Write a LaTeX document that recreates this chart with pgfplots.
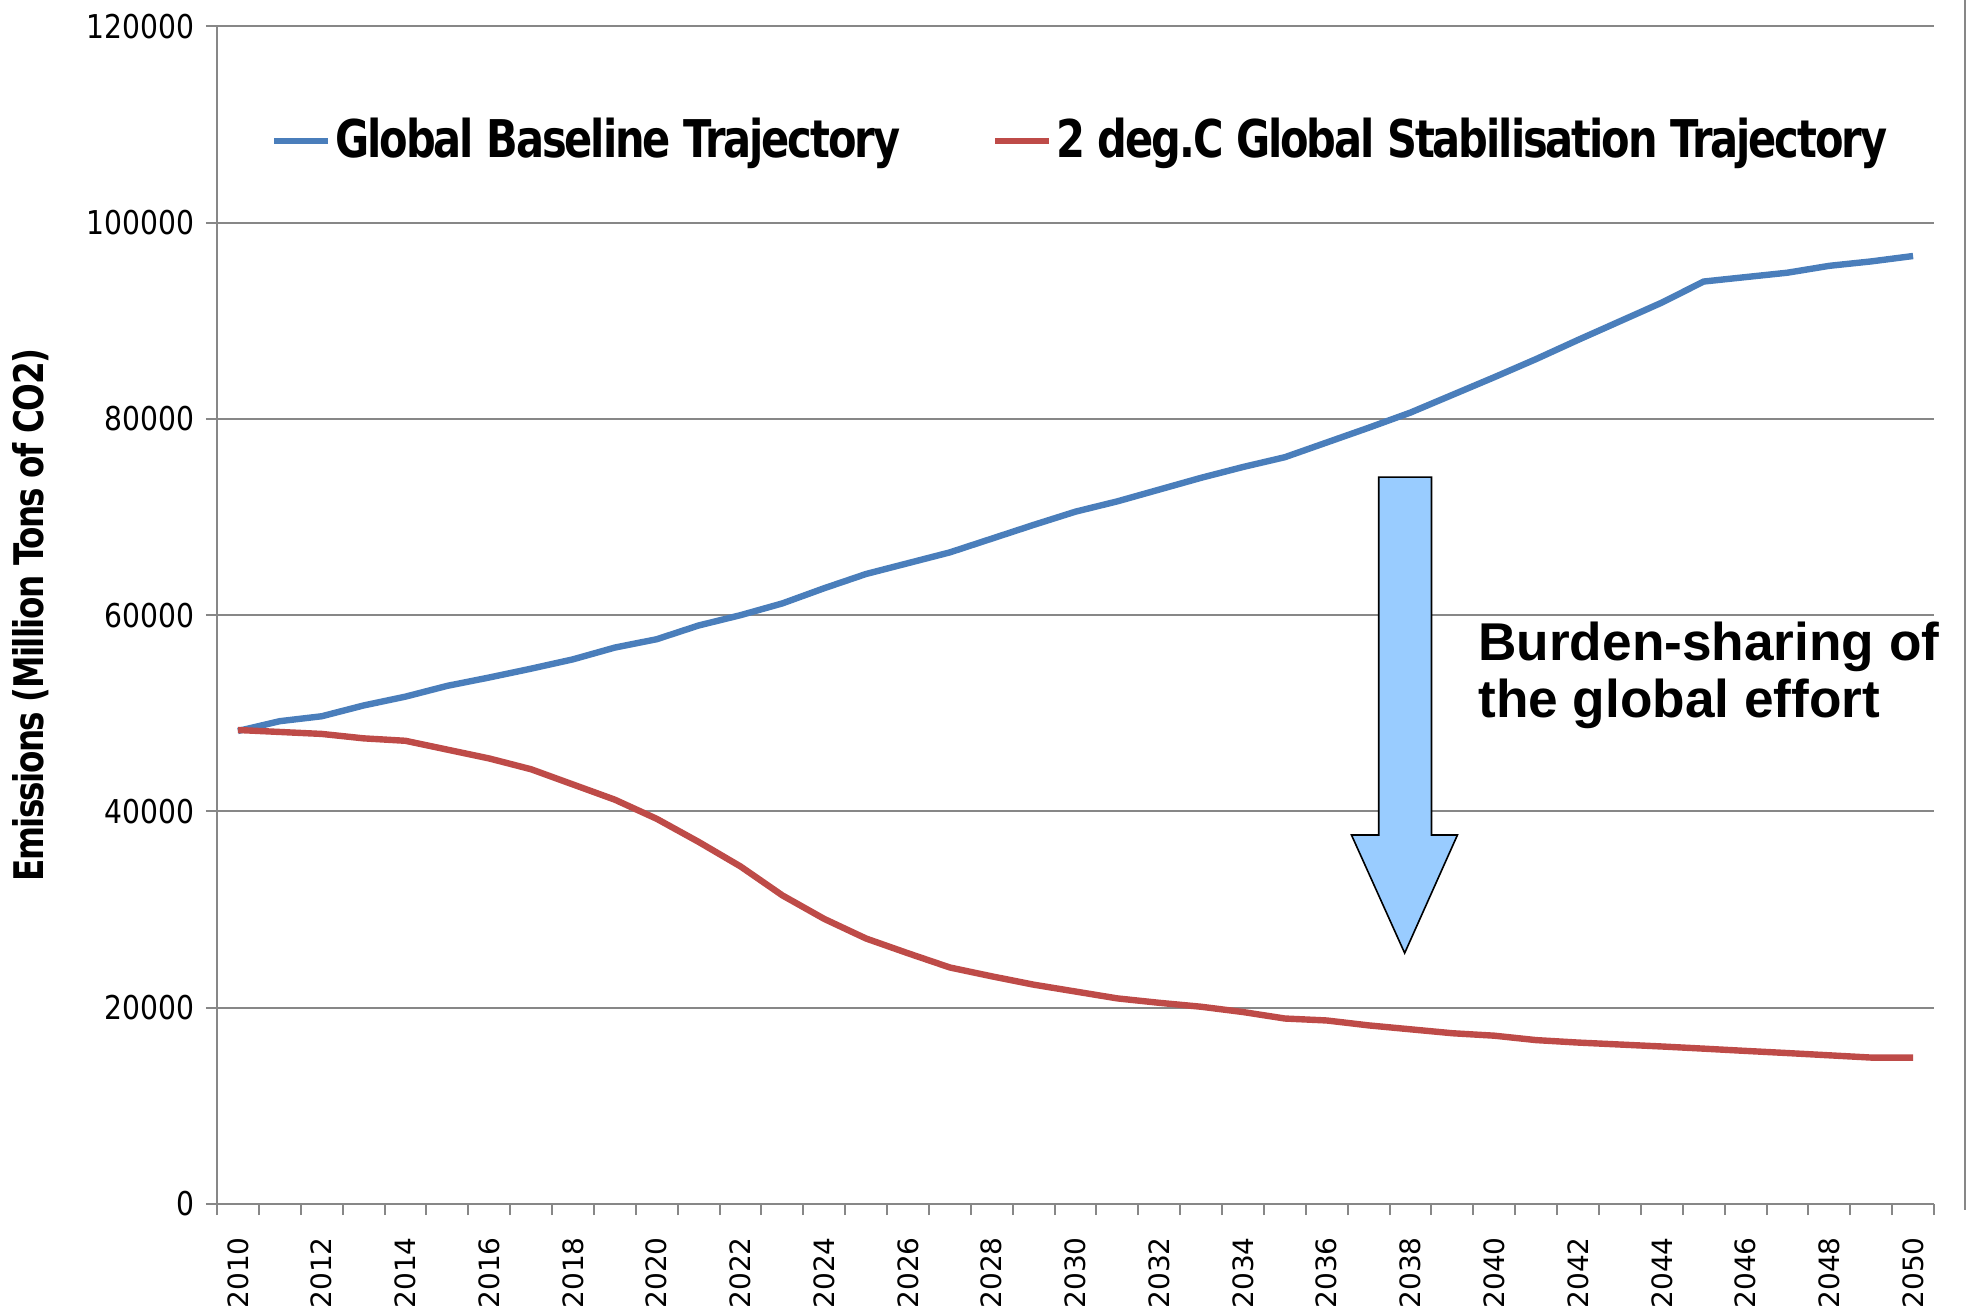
\documentclass[border=0pt]{standalone}
\usepackage{pgfplots}
\pgfplotsset{compat=1.18}
\usepackage{fontspec}
\setmainfont{DejaVu Sans}
\newfontfamily\ytfont{DejaVu Sans}[FakeStretch=0.86]
\newfontfamily\legfont{DejaVu Sans}[FakeStretch=0.80,LetterSpace=-4]
\newfontfamily\arialfont{Liberation Sans}
\definecolor{serblue}{HTML}{4A7EBB}
\definecolor{serred}{HTML}{BE4B48}
\definecolor{gridgray}{HTML}{878787}
\definecolor{arrowblue}{HTML}{99CCFF}

\pgfplotstableread{
year value
2010 48200
2011 49200
2012 49700
2013 50800
2014 51700
2015 52800
2016 53650
2017 54550
2018 55500
2019 56700
2020 57550
2021 58950
2022 60000
2023 61200
2024 62750
2025 64200
2026 65300
2027 66400
2028 67800
2029 69200
2030 70550
2031 71600
2032 72800
2033 74000
2034 75100
2035 76100
2036 77600
2037 79100
2038 80650
2039 82450
2040 84250
2041 86100
2042 88050
2043 89950
2044 91850
2045 94000
2046 94450
2047 94900
2048 95600
2049 96050
2050 96600
}\baseline

\pgfplotstableread{
year value
2010 48300
2011 48100
2012 47900
2013 47450
2014 47200
2015 46300
2016 45400
2017 44300
2018 42750
2019 41200
2020 39250
2021 36900
2022 34400
2023 31450
2024 29050
2025 27050
2026 25550
2027 24100
2028 23200
2029 22350
2030 21650
2031 20950
2032 20500
2033 20100
2034 19560
2035 18900
2036 18700
2037 18200
2038 17800
2039 17400
2040 17150
2041 16700
2042 16450
2043 16250
2044 16050
2045 15830
2046 15600
2047 15380
2048 15150
2049 14920
2050 14920
}\stabil

\begin{document}
\begin{tikzpicture}
\useasboundingbox (-54.25pt,-27.5pt) rectangle (438pt,301pt);
\begin{axis}[
  at={(0pt,0pt)}, anchor=south west,
  scale only axis, width=429.25pt, height=294.4pt,
  xmin=2009.5, xmax=2050.5, ymin=0, ymax=120000,
  clip=false,
  axis x line*=bottom, axis y line*=left,
  axis line style={gridgray, line width=0.5pt, -},
  xtick={2009.5,2010.5,...,2050.5},
  xticklabels={},
  extra x ticks={2010,2012,...,2050},
  extra x tick labels={2010,2012,2014,2016,2018,2020,2022,2024,2026,2028,2030,2032,2034,2036,2038,2040,2042,2044,2046,2048,2050},
  extra x tick style={major tick length=0pt, tick style={draw=none}},
  ytick={0,20000,40000,60000,80000,100000,120000},
  yticklabels={0,20000,40000,60000,80000,100000,120000},
  ymajorgrids,
  grid style={gridgray, line width=0.5pt},
  tick align=outside,
  major tick length=2.8pt,
  tick style={gridgray, line width=0.5pt},
  y tick label style={font=\ytfont\fontsize{8.2}{9}\selectfont, inner sep=0.5pt, xshift=-2.2pt},
  x tick label style={font=\fontsize{7}{8}\selectfont, yshift=-4.8pt, rotate=90, anchor=east},
  ylabel={Emissions (Million Tons of CO2)},
  ylabel style={at={(axis description cs:-0.1083,0.5)}, anchor=center, font=\legfont\bfseries\fontsize{10.2}{11}\selectfont},
  legend columns=2,
  legend style={at={(axis description cs:0.0309,0.9027)}, anchor=west, draw=none, fill=none,
    inner sep=0pt, font=\legfont\bfseries\fontsize{13}{15}\selectfont,
    nodes={inner sep=1pt},
    /tikz/every even column/.append style={column sep=22pt}},
  legend image code/.code={\draw[#1] (0pt,0pt) -- (13.5pt,0pt);},
]
\addplot[serblue, line width=1.6pt] table[x=year, y=value] {\baseline};
\addlegendentry{Global Baseline Trajectory}
\addplot[serred, line width=1.6pt] table[x=year, y=value] {\stabil};
\addlegendentry{2 deg.C Global Stabilisation Trajectory}

\filldraw[fill=arrowblue, draw=black, line width=0.4pt]
  (axis cs:2037.24,74070) -- (axis cs:2038.50,74070) -- (axis cs:2038.50,37600)
  -- (axis cs:2039.12,37600) -- (axis cs:2037.86,25570) -- (axis cs:2036.59,37600)
  -- (axis cs:2037.24,37600) -- cycle;

\node[anchor=base west, inner sep=0pt, font=\arialfont\bfseries\fontsize{13.3}{14.5}\selectfont] at (axis cs:2039.6,55425) {Burden-sharing of};
\node[anchor=base west, inner sep=0pt, font=\arialfont\bfseries\fontsize{13.3}{14.5}\selectfont] at (axis cs:2039.6,49620) {the global effort};
\end{axis}
\draw[gridgray, line width=0.4pt] (437pt,-1.5pt) -- (437pt,301pt);
\end{tikzpicture}
\end{document}
